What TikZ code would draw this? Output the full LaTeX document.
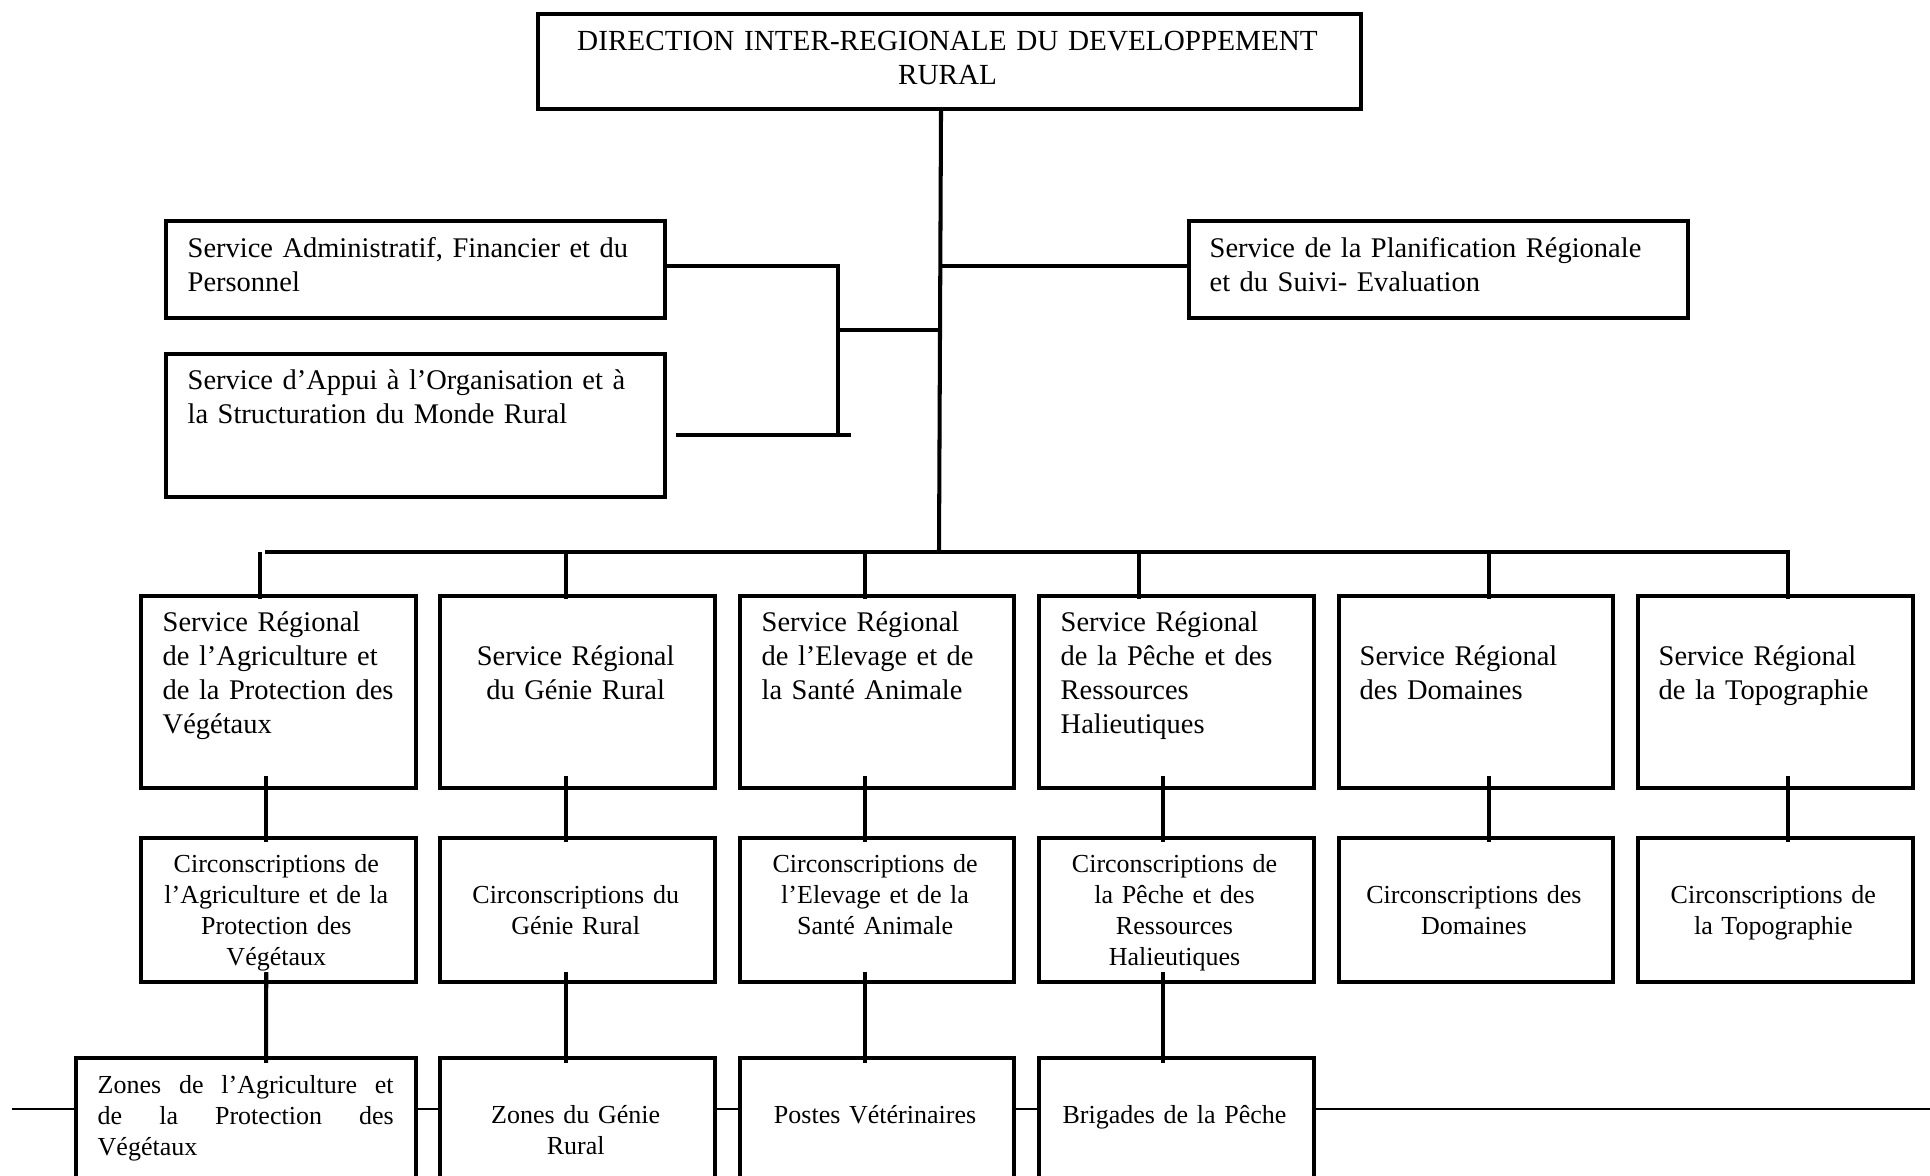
\documentclass[tikz,border=0pt]{standalone}
\usepackage{fontspec}
\setmainfont{Liberation Serif}

\begin{document}
\begin{tikzpicture}[
  box/.style={draw, line width=1.15pt, fill=white, inner sep=0pt, anchor=north west},
  txt/.style={inner sep=0pt, anchor=base west, align=left, text width=2.6cm,
    font=\fontsize{8.1}{9.6}\selectfont},
  txtc/.style={txt, anchor=base, align=center},
  sm/.style={font=\fontsize{7.4}{8.8}\selectfont},
  ln/.style={line width=1.15pt}
]
\clip (0,0) rectangle (19.30,-11.76);
% direction
\node[box, minimum width=8.23cm, minimum height=0.95cm] (dir) at (5.36,-0.12) {};
\node[txtc, text width=8cm, font=\fontsize{8.3}{9.6}\selectfont] (dir-t) at (9.475,-0.51)
  {DIRECTION INTER-REGIONALE DU DEVELOPPEMENT\\RURAL};
% services rattaches
\node[box, minimum width=4.99cm, minimum height=0.97cm] (saf) at (1.64,-2.19) {};
\node[txt, text width=4.7cm] (saf-t) at (1.87,-2.58) {Service Administratif, Financier et du\\Personnel};
\node[box, minimum width=4.99cm, minimum height=1.43cm] (sao) at (1.64,-3.52) {};
\node[txt, text width=4.7cm] (sao-t) at (1.87,-3.90) {Service d’Appui à l’Organisation et à\\la Structuration du Monde Rural};
\node[box, minimum width=4.99cm, minimum height=0.97cm] (sps) at (11.87,-2.19) {};
\node[txt, text width=4.7cm] (sps-t) at (12.09,-2.58) {Service de la Planification Régionale\\et du Suivi- Evaluation};
% services regionaux
\foreach \n [count=\i from 0] in {sra,srg,sre,srp,srd,srt}
  \node[box, minimum width=2.745cm, minimum height=1.92cm] (\n) at ({1.39+\i*2.994},-5.94) {};
\node[txt] (sra-t) at (1.62,-6.32) {Service Régional\\de l’Agriculture et\\de la Protection des\\Végétaux};
\node[txtc] (srg-t) at (5.757,-6.66) {Service Régional\\du Génie Rural};
\node[txt] (sre-t) at (7.61,-6.32) {Service Régional\\de l’Elevage et de\\la Santé Animale};
\node[txt] (srp-t) at (10.60,-6.32) {Service Régional\\de la Pêche et des\\Ressources\\Halieutiques};
\node[txt] (srd-t) at (13.59,-6.66) {Service Régional\\des Domaines};
\node[txt] (srt-t) at (16.58,-6.66) {Service Régional\\de la Topographie};
% circonscriptions
\foreach \n [count=\i from 0] in {cira,cirg,cire,cirp,cird,cirt}
  \node[box, minimum width=2.745cm, minimum height=1.44cm] (\n) at ({1.39+\i*2.994},-8.36) {};
\node[txtc, sm] (cira-t) at (2.763,-8.73) {Circonscriptions de\\l’Agriculture et de la\\Protection des\\Végétaux};
\node[txtc, sm] (cirg-t) at (5.757,-9.04) {Circonscriptions du\\Génie Rural};
\node[txtc, sm] (cire-t) at (8.751,-8.73) {Circonscriptions de\\l’Elevage et de la\\Santé Animale};
\node[txtc, sm] (cirp-t) at (11.745,-8.73) {Circonscriptions de\\la Pêche et des\\Ressources\\Halieutiques};
\node[txtc, sm] (cird-t) at (14.739,-9.04) {Circonscriptions des\\Domaines};
\node[txtc, sm] (cirt-t) at (17.733,-9.04) {Circonscriptions de\\la Topographie};
% zones, postes, brigades
\draw[line width=0.8pt] (0.12,-11.09) -- (19.30,-11.09);
\node[box, minimum width=3.40cm, minimum height=1.50cm] (zona) at (0.74,-10.56) {};
\foreach \n [count=\i from 1] in {zong,vet,brig}
  \node[box, minimum width=2.745cm, minimum height=1.50cm] (\n) at ({1.39+\i*2.994},-10.56) {};
\node[txt, sm, text width=2.96cm, align=justify] (zona-t) at (0.97,-10.94)
  {Zones de l’Agriculture et\linebreak de la Protection des\linebreak Végétaux};
\node[txtc, sm] (zong-t) at (5.757,-11.24) {Zones du Génie\\Rural};
\node[txtc, sm] (vet-t) at (8.751,-11.24) {Postes Vétérinaires};
\node[txtc, sm] (brig-t) at (11.745,-11.24) {Brigades de la Pêche};
% liaisons
\coordinate (hub) at (9.39,-5.52);
\coordinate (brk) at (8.38,-3.30);
\draw[ln] ([xshift=-.85mm]dir.south) -- (hub);
\draw[ln] (hub |- sps.west) ++(0,.35mm) -- ([yshift=.35mm]sps.west);
\draw[ln] ([yshift=.35mm]saf.east) -| (8.38,-4.33);
\draw[ln] ([shift={(.9mm,-.95mm)}]sao.east) -- ++(1.75,0);
\draw[ln] (brk) -- (brk -| hub);
\draw[ln] (2.65,-5.52) -| ([xshift=1.3mm,yshift=-.5mm]srt.north);
\foreach \n/\dx in {sra/-1.8mm,srg/-1.2mm,sre/-1.2mm,srp/-3.7mm,srd/1.3mm}
  \draw[ln] ([xshift=\dx,yshift=-.5mm]\n.north) -- ++(0,.47);
\foreach \a/\b/\dx in {sra/cira/-1.2mm,srg/cirg/-1.2mm,sre/cire/-1.2mm,srp/cirp/-1.35mm,srd/cird/1.3mm,srt/cirt/1.3mm}
  \draw[ln] ([xshift=\dx,yshift=1.4mm]\a.south) -- ([xshift=\dx,yshift=-.6mm]\b.north);
\draw[ln] ([xshift=-1.2mm,yshift=1.2mm]cira.south) -- ([xshift=2mm,yshift=-.7mm]zona.north);
\foreach \a/\b/\dx in {cirg/zong/-1.2mm,cire/vet/-1.2mm,cirp/brig/-1.35mm}
  \draw[ln] ([xshift=\dx,yshift=1.2mm]\a.south) -- ([xshift=\dx,yshift=-.7mm]\b.north);
\end{tikzpicture}
\end{document}
